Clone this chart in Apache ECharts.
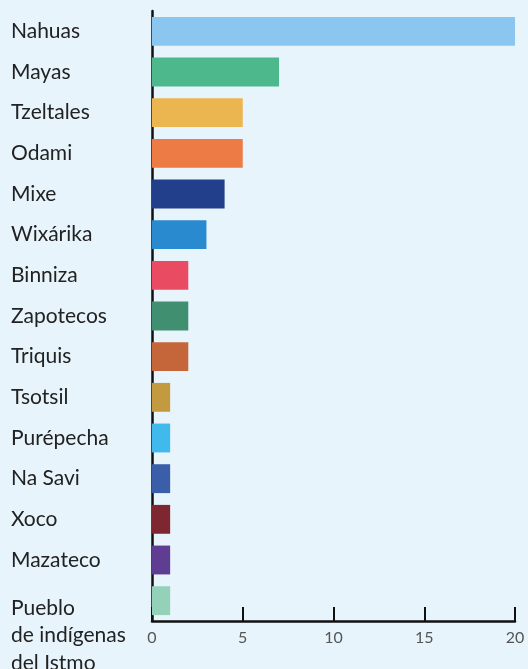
<!DOCTYPE html>
<html>
<head>
<meta charset="utf-8">
<script src="https://cdn.jsdelivr.net/npm/echarts@6/dist/echarts.min.js"></script>
<style>
  html, body { margin: 0; padding: 0; background: #e8f4fc; }
  #chart { width: 528px; height: 669px; }
</style>
</head>
<body>
<div id="chart"></div>
<script>
// pueblos and counts, top to bottom
var pueblos = ['Nahuas', 'Mayas', 'Tzeltales', 'Odami', 'Mixe', 'Wixárika', 'Binniza',
  'Zapotecos', 'Triquis', 'Tsotsil', 'Purépecha', 'Na Savi', 'Xoco', 'Mazateco',
  'Pueblo\nde indígenas\ndel Istmo'];
var cantidad = [20, 7, 5, 5, 4, 3, 2, 2, 2, 1, 1, 1, 1, 1, 1];
var colores = ['#8ac6ef', '#4db88c', '#ebb54f', '#ed7b45', '#213f8a', '#2a8acf', '#e94b63',
  '#3f8f70', '#c4663a', '#c49a40', '#40b9ec', '#3a5ea8', '#7e2731', '#5e3d92', '#93d1b9'];
var ticksX = [0, 5, 10, 15, 20];

var chart = echarts.init(document.getElementById('chart'));

chart.setOption({
  backgroundColor: '#e8f4fc',
  animation: false,
  textStyle: { fontFamily: 'Lato' },
  grid: { left: 152, right: 13, top: 11, bottom: 48, containLabel: false, outerBoundsMode: 'none' },
  xAxis: {
    type: 'value',
    min: ticksX[0],
    max: ticksX[ticksX.length - 1],
    interval: 5,
    splitLine: { show: false },
    axisLine: { show: true, lineStyle: { color: '#111', width: 2.5 } },
    axisTick: { show: true, inside: true, length: 14, lineStyle: { color: '#111', width: 2 } },
    axisLabel: { color: '#555', fontSize: 16, fontFamily: 'Lato', margin: 9 }
  },
  yAxis: {
    type: 'category',
    inverse: true,
    data: pueblos,
    axisLine: { show: true, lineStyle: { color: '#111', width: 2.5 } },
    axisTick: { show: false },
    axisLabel: {
      color: '#222', fontSize: 21, fontFamily: 'Lato',
      align: 'left', margin: 141, interval: 0, hideOverlap: false,
      formatter: function (v) {
        if (v.indexOf('\n') < 0) return v;
        // multi-line label starts at bar level and runs downward
        return '{s| }\n' + v.split('\n').map(function (l) { return '{a|' + l + '}'; }).join('\n');
      },
      rich: {
        s: { lineHeight: 70, fontSize: 1 },
        a: { lineHeight: 27.5, fontSize: 21, color: '#222', fontFamily: 'Lato' }
      }
    }
  },
  series: [{
    type: 'bar',
    data: cantidad.map(function (v, i) {
      return { value: v, itemStyle: { color: colores[i] } };
    }),
    barCategoryGap: '29%',
    silent: true
  }]
});
</script>
</body>
</html>
